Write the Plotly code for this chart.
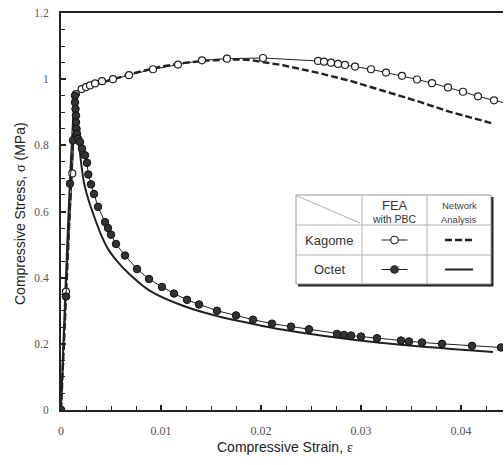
import plotly.graph_objects as go

# ---- data ----
kagome_fea_x = [0, 0.0005, 0.00113, 0.0015, 0.00207, 0.0025, 0.0029, 0.0034, 0.0041, 0.0052,
                0.0068, 0.0092, 0.0117, 0.0141, 0.0166, 0.0202, 0.0257, 0.0263, 0.027, 0.0277,
                0.0284, 0.0294, 0.031, 0.0325, 0.0341, 0.0356, 0.0371, 0.0387, 0.0402, 0.0417,
                0.0433, 0.0448]
kagome_fea_y = [0, 0.358, 0.715, 0.955, 0.97, 0.976, 0.981, 0.987, 0.994, 1.0,
                1.012, 1.03, 1.044, 1.057, 1.062, 1.064, 1.055, 1.053, 1.05, 1.046,
                1.043, 1.038, 1.03, 1.02, 1.01, 0.999, 0.988, 0.975, 0.962, 0.948,
                0.936, 0.925]

kagome_net_x = [0, 0.0014, 0.003, 0.005, 0.0075, 0.01, 0.0125, 0.015, 0.0175, 0.0189,
                0.0222, 0.0256, 0.0289, 0.0322, 0.0356, 0.0389, 0.0432]
kagome_net_y = [0, 0.96, 0.98, 0.998, 1.02, 1.038, 1.05, 1.057, 1.06, 1.058,
                1.042, 1.02, 0.995, 0.965, 0.934, 0.901, 0.866]

octet_fea_x = [0, 0.0005, 0.0009, 0.0012, 0.0014, 0.0014, 0.00145, 0.0015, 0.0015, 0.00155,
               0.0016, 0.0017, 0.0019, 0.0021, 0.0024, 0.0026, 0.00273, 0.003, 0.0033, 0.0037,
               0.0044, 0.0047, 0.005, 0.0055, 0.0064, 0.0076, 0.0088, 0.0101, 0.0113, 0.0126,
               0.0138, 0.0156, 0.0175, 0.0192, 0.0211, 0.023, 0.0248, 0.0276, 0.0283, 0.029,
               0.03, 0.0316, 0.034, 0.0348, 0.0361, 0.0381, 0.0411, 0.044]
octet_fea_y = [0, 0.343, 0.684, 0.815, 0.95, 0.93, 0.91, 0.89, 0.87, 0.85,
               0.835, 0.82, 0.81, 0.79, 0.77, 0.747, 0.712, 0.682, 0.653, 0.614,
               0.568, 0.55, 0.53, 0.502, 0.467, 0.426, 0.396, 0.372, 0.352, 0.333,
               0.319, 0.3, 0.286, 0.273, 0.261, 0.252, 0.244, 0.23, 0.227, 0.225,
               0.222, 0.217, 0.21, 0.207, 0.204, 0.2, 0.194, 0.189]

octet_net_x = [0, 0.0014, 0.0017, 0.002, 0.0023, 0.0028, 0.0033, 0.004, 0.0047, 0.0056,
               0.0068, 0.0089, 0.0122, 0.0156, 0.0189, 0.0219, 0.0319, 0.0432]
octet_net_y = [0, 0.96, 0.84, 0.75, 0.687, 0.63, 0.586, 0.53, 0.487, 0.45,
               0.412, 0.36, 0.315, 0.284, 0.262, 0.244, 0.203, 0.175]

x_tick_vals = [0, 0.01, 0.02, 0.03, 0.04]
x_tick_text = ["0", "0.01", "0.02", "0.03", "0.04"]
y_tick_vals = [0, 0.2, 0.4, 0.6, 0.8, 1.0, 1.2]
y_tick_text = ["0", "0.2", "0.4", "0.6", "0.8", "1", "1.2"]

# ---- figure ----
W, H = 504, 465
L, R, T, B = 61, 1, 13, 55
PW, PH = W - L - R, H - T - B

def px(x):
    return (x - L) / PW

def py(y):
    return (H - B - y) / PH

DARK = "#222222"
fig = go.Figure()

fig.add_trace(go.Scatter(x=kagome_net_x, y=kagome_net_y, mode="lines",
                         line=dict(color=DARK, width=2.4, dash="7px,3px"), showlegend=False))
fig.add_trace(go.Scatter(x=octet_net_x, y=octet_net_y, mode="lines",
                         line=dict(color=DARK, width=2, shape="spline", smoothing=0.8), showlegend=False))
fig.add_trace(go.Scatter(x=kagome_fea_x, y=kagome_fea_y, mode="lines+markers",
                         line=dict(color=DARK, width=1),
                         marker=dict(symbol="circle", size=7, color="white",
                                     line=dict(color=DARK, width=1.2)), showlegend=False))
fig.add_trace(go.Scatter(x=octet_fea_x, y=octet_fea_y, mode="lines+markers",
                         line=dict(color=DARK, width=1),
                         marker=dict(symbol="circle", size=7.5, color="#333333",
                                     line=dict(color="#111111", width=1)), showlegend=False))

# ---- legend table ----
tx0, tx1, ty0, ty1 = 296, 491, 195, 284
cx1, cx2 = 362, 427
ry1, ry2 = 225, 255
shapes = []
grey = "#b0b0b0"
shapes.append(dict(type="rect", xref="paper", yref="paper", x0=px(tx0 + 2), x1=px(tx1 + 2.5),
                   y0=py(ty1 + 2.5), y1=py(ty0 + 2), fillcolor="#222", line=dict(width=0)))
shapes.append(dict(type="rect", xref="paper", yref="paper", x0=px(tx0), x1=px(tx1),
                   y0=py(ty1), y1=py(ty0), fillcolor="white", line=dict(color="#999", width=1)))
for cx in (cx1, cx2):
    shapes.append(dict(type="line", xref="paper", yref="paper", x0=px(cx), x1=px(cx),
                       y0=py(ty0), y1=py(ty1), line=dict(color=grey, width=1)))
for ry in (ry1, ry2):
    shapes.append(dict(type="line", xref="paper", yref="paper", x0=px(tx0), x1=px(tx1),
                       y0=py(ry), y1=py(ry), line=dict(color=grey, width=1)))
shapes.append(dict(type="line", xref="paper", yref="paper", x0=px(tx0 + 1), x1=px(cx1 - 2),
                   y0=py(ty0 + 1), y1=py(ry1 - 2), line=dict(color=grey, width=1)))
# legend sample lines
scx_fea = (cx1 + cx2) / 2
scx_net = (cx2 + tx1) / 2
rk = (ry1 + ry2) / 2
ro = (ry2 + ty1) / 2
for yy in (rk, ro):
    shapes.append(dict(type="line", xref="paper", yref="paper", x0=px(scx_fea - 13),
                       x1=px(scx_fea + 13), y0=py(yy), y1=py(yy), line=dict(color=DARK, width=1)))
shapes.append(dict(type="line", xref="paper", yref="paper", x0=px(scx_net - 14),
                   x1=px(scx_net + 14), y0=py(rk), y1=py(rk),
                   line=dict(color=DARK, width=2.4, dash="7px,3px")))
shapes.append(dict(type="line", xref="paper", yref="paper", x0=px(scx_net - 14),
                   x1=px(scx_net + 14), y0=py(ro), y1=py(ro), line=dict(color=DARK, width=2)))
for s in shapes:
    s["layer"] = "below"
fig.update_layout(shapes=shapes)

fig.add_trace(go.Scatter(x=[px(scx_fea), px(scx_fea)], y=[py(rk), py(ro)], xaxis="x2", yaxis="y2",
                         mode="markers", showlegend=False, hoverinfo="skip",
                         marker=dict(size=7.5, color=["white", "#333333"],
                                     line=dict(color=DARK, width=1.2))))

sans = "Liberation Sans, Arial, sans-serif"
anns = [
    dict(text="FEA", x=px(scx_fea), y=py(205), font=dict(size=13, family=sans, color="#333")),
    dict(text="with PBC", x=px(scx_fea), y=py(219), font=dict(size=10.5, family=sans, color="#333")),
    dict(text="Network", x=px(scx_net), y=py(205), font=dict(size=9.5, family=sans, color="#444")),
    dict(text="Analysis", x=px(scx_net), y=py(219), font=dict(size=9.5, family=sans, color="#444")),
    dict(text="Kagome", x=px((tx0 + cx1) / 2), y=py(rk), font=dict(size=13, family=sans, color="#333")),
    dict(text="Octet", x=px((tx0 + cx1) / 2), y=py(ro), font=dict(size=13, family=sans, color="#333")),
    dict(text="Compressive Strain, <span style='font-family:Liberation Serif'>ε</span>",
         x=px(285), y=py(447), font=dict(size=14, family=sans, color="#222")),
    dict(text="Compressive Stress, <span style='font-family:Liberation Serif'>σ</span> (MPa)",
         x=px(20), y=py(214), textangle=-90, font=dict(size=14, family=sans, color="#222")),
]
for a in anns:
    a.update(xref="paper", yref="paper", showarrow=False, xanchor="center", yanchor="middle")
fig.update_layout(annotations=anns)

serif = "Liberation Serif, Times New Roman, serif"
fig.update_layout(
    width=W, height=H, margin=dict(l=L, r=R, t=T, b=B, autoexpand=False),
    paper_bgcolor="white", plot_bgcolor="white",
    xaxis=dict(range=[0, 0.0442], tickvals=x_tick_vals, ticktext=x_tick_text,
               showgrid=False, zeroline=False, showline=True, linecolor=DARK, linewidth=2,
               mirror=True, ticks="inside", ticklen=5, tickwidth=1.5, tickcolor=DARK,
               minor=dict(dtick=0.0025, tick0=0, ticks="inside", ticklen=4, tickcolor=DARK, tickwidth=1.2),
               tickfont=dict(family=serif, size=12, color="#555"), ticklabelstandoff=9),
    yaxis=dict(range=[0, 1.2], tickvals=y_tick_vals, ticktext=y_tick_text,
               showgrid=False, zeroline=False, showline=True, linecolor=DARK, linewidth=2,
               mirror=False, ticks="inside", ticklen=5, tickwidth=1.5, tickcolor=DARK,
               minor=dict(dtick=0.05, tick0=0, ticks="inside", ticklen=4, tickcolor=DARK, tickwidth=1.2),
               tickfont=dict(family=serif, size=11.5, color="#555"), ticklabelstandoff=8),
    xaxis2=dict(range=[0, 1], domain=[0, 1], overlaying="x", visible=False, fixedrange=True),
    yaxis2=dict(range=[0, 1], domain=[0, 1], overlaying="y", visible=False, fixedrange=True),
)

fig.write_html("out.html", config={"displayModeBar": False},
               post_script="document.body.style.margin='0';document.body.style.padding='0';")
